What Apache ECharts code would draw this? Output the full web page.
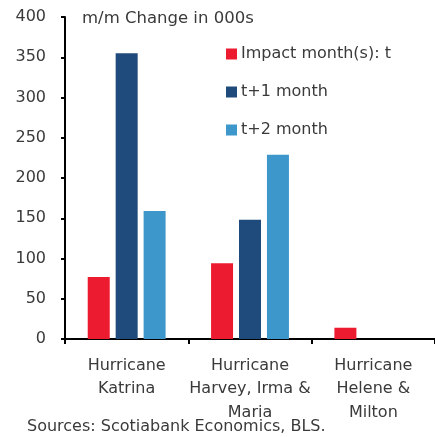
<!DOCTYPE html>
<html>
<head>
<meta charset="utf-8">
<script src="https://cdn.jsdelivr.net/npm/echarts@6/dist/echarts.min.js"></script>
<style>
html,body{margin:0;padding:0;background:#fff;}
#chart{width:435px;height:437px;}
</style>
</head>
<body>
<div id="chart"></div>
<script>
const categories = ['Hurricane\nKatrina', 'Hurricane\nHarvey, Irma &\nMaria', 'Hurricane\nHelene &\nMilton'];
const impactMonth = [77, 94, 14];
const tPlus1 = [355, 148, null];
const tPlus2 = [159, 229, null];
const seriesNames = ['Impact month(s): t', 't+1 month', 't+2 month'];
const yTicks = [0, 50, 100, 150, 200, 250, 300, 350, 400];

const FONT = 'DejaVu Sans';
const TXT = '#3a3a3a';
const chart = echarts.init(document.getElementById('chart'), null, {renderer: 'canvas'});
const barStyle = {barWidth: 22, barGap: '27%'};
chart.setOption({
  animation: false,
  backgroundColor: '#ffffff',
  textStyle: {fontFamily: FONT},
  title: {
    text: 'm/m Change in 000s',
    left: 77, top: 5,
    textStyle: {fontFamily: FONT, fontSize: 16.5, fontWeight: 'normal', color: TXT}
  },
  legend: {
    orient: 'vertical',
    left: 221, top: 41,
    itemWidth: 11, itemHeight: 11, itemGap: 22,
    icon: 'rect',
    textStyle: {fontFamily: FONT, fontSize: 16, color: TXT, padding: [0, 0, 0, -1], lineHeight: 16},
    data: seriesNames
  },
  graphic: [{
    type: 'text', left: 27, top: 419,
    style: {text: 'Sources: Scotiabank Economics, BLS.', font: '16px "DejaVu Sans"', fill: TXT}
  }],
  grid: {left: 65, top: 17, width: 376, height: 322, containLabel: false},
  xAxis: {
    type: 'category',
    data: categories,
    axisLine: {lineStyle: {color: '#000', width: 2}},
    axisTick: {show: true, length: 5, lineStyle: {color: '#000', width: 2}},
    axisLabel: {fontFamily: FONT, fontSize: 16, color: TXT, lineHeight: 23.5, margin: 15, interval: 0}
  },
  yAxis: {
    type: 'value',
    min: yTicks[0], max: yTicks[yTicks.length - 1], interval: 50,
    splitLine: {show: false},
    axisLine: {show: true, lineStyle: {color: '#000', width: 2}},
    axisTick: {show: true, length: 4, lineStyle: {color: '#000', width: 2}},
    axisLabel: {fontFamily: FONT, fontSize: 16, color: TXT, margin: 19}
  },
  series: [
    Object.assign({type: 'bar', name: seriesNames[0], data: impactMonth, itemStyle: {color: '#ED1B2F'}}, barStyle),
    Object.assign({type: 'bar', name: seriesNames[1], data: tPlus1, itemStyle: {color: '#1F4A7C'}}, barStyle),
    Object.assign({type: 'bar', name: seriesNames[2], data: tPlus2, itemStyle: {color: '#3D97CB'}}, barStyle)
  ]
});
</script>
</body>
</html>
